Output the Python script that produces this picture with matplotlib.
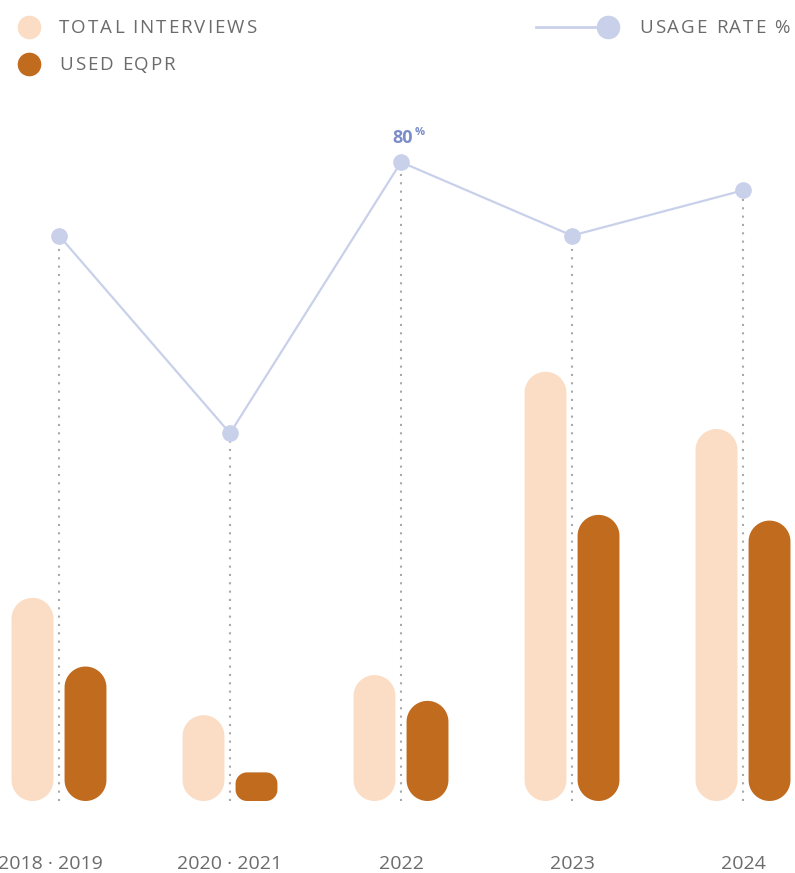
import numpy as np
import matplotlib
matplotlib.use('Agg')
import matplotlib.pyplot as plt
from matplotlib.lines import Line2D
from matplotlib.transforms import offset_copy

plt.rcParams['font.family'] = ['Open Sans', 'DejaVu Sans']

# data
periods = ['2018 · 2019', '2020 · 2021', '2022', '2023', '2024']
total_interviews = [71, 30, 44, 150, 130]
used_eqpr = [47, 10, 35, 100, 98]
usage_rate = [67, 32, 80, 67, 75]

c_total = '#fbdcc4'
c_used = '#c16b1f'
c_line = '#c9d0ea'
c_label = '#7b8cc8'
c_text = '#6b6b6b'

W, H = 795, 873
fig = plt.figure(figsize=(W / 100, H / 100), dpi=100)
ax = fig.add_axes([0, 72 / H, 1, 701 / H])
ax.set_xlim(-0.345, 4.304)
ax.set_ylim(0, 245)
ax2 = ax.twinx()
ax2.set_ylim(-33.1, 91.0)

for a in (ax, ax2):
    for s in a.spines.values():
        s.set_visible(False)
    a.set_yticks([])
ax.set_xticks(range(len(periods)))
ax.set_xticklabels(periods, fontsize=14, color=c_text)
ax.tick_params(axis='x', length=0, pad=39)
lab0 = ax.get_xticklabels()[0]
lab0.set_transform(offset_copy(lab0.get_transform(), fig=fig, x=-9, y=0,
                               units='dots'))

# pixel scale of the bar axes
bb = ax.get_window_extent()
sx = bb.width / (4.304 + 0.345)
sy = bb.height / 245


def pill(xc, h, w, color):
    r = min(w * sx, h * sy * 0.8) / 2
    rx, ry = r / sx, r / sy
    x0, x1 = xc - w / 2, xc + w / 2
    t = np.linspace(0, np.pi / 2, 20)
    xs, ys = [], []
    corners = [(x1 - rx, h - ry, 0), (x0 + rx, h - ry, np.pi / 2),
               (x0 + rx, ry, np.pi), (x1 - rx, ry, 1.5 * np.pi)]
    for cx, cy, a0 in corners:
        xs.extend(cx + rx * np.cos(t + a0))
        ys.extend(cy + ry * np.sin(t + a0))
    ax.fill(xs, ys, color=color, lw=0, zorder=3)


x = np.arange(len(periods))
bw = 0.245
off = 0.155
for i in range(len(periods)):
    pill(x[i] - off, total_interviews[i], bw, c_total)
    pill(x[i] + off, used_eqpr[i], bw, c_used)

# dotted drop lines and usage line
for i in range(len(periods)):
    ax2.plot([x[i], x[i]], [-33.1, usage_rate[i]], color='#a9a9a9', lw=1.5,
             linestyle=(0, (1, 3)), zorder=1)
ax2.plot(x, usage_rate, color=c_line, lw=1.6, marker='o', ms=11,
         markerfacecolor=c_line, markeredgecolor=c_line, zorder=2)

imax = int(np.argmax(usage_rate))
ax2.annotate(f'{usage_rate[imax]}', (x[imax], usage_rate[imax]),
             xytext=(8.6, 13.5), textcoords='offset points', ha='right',
             va='baseline', fontsize=13, fontweight='bold', color=c_label)
ax2.annotate('%', (x[imax], usage_rate[imax]), xytext=(10, 19.5),
             textcoords='offset points', ha='left', va='baseline',
             fontsize=8, fontweight='bold', color=c_label)

# legend (text with letter spacing)
renderer = fig.canvas.get_renderer()


def spaced(x_px, y_px, s, track, ha='left'):
    widths = []
    for ch in s:
        if ch == ' ':
            widths.append(5)
            continue
        t = fig.text(0, 0, ch, fontsize=13.5)
        widths.append(t.get_window_extent(renderer).width)
        t.remove()
    total = sum(widths) + track * (len(s) - 1)
    xp = x_px if ha == 'left' else x_px - total
    for ch, w in zip(s, widths):
        if ch != ' ':
            fig.text(xp / W, 1 - y_px / H, ch, fontsize=13.5, color=c_text,
                     va='center', ha='left')
        xp += w + track


fig.add_artist(Line2D([29 / W], [1 - 27 / H], marker='o', ms=16, lw=0,
                      color=c_total))
fig.add_artist(Line2D([29 / W], [1 - 64 / H], marker='o', ms=16, lw=0,
                      color=c_used))
spaced(59, 28, 'TOTAL INTERVIEWS', 1.9)
spaced(59, 65, 'USED EQPR', 1.9)
fig.add_artist(Line2D([536 / W, 608 / W], [1 - 27 / H] * 2, lw=2,
                      color=c_line))
fig.add_artist(Line2D([608 / W], [1 - 27 / H], marker='o', ms=16, lw=0,
                      color=c_line))
spaced(790, 28, 'USAGE RATE %', 1.9, ha='right')

fig.savefig('out.png', dpi=100)
